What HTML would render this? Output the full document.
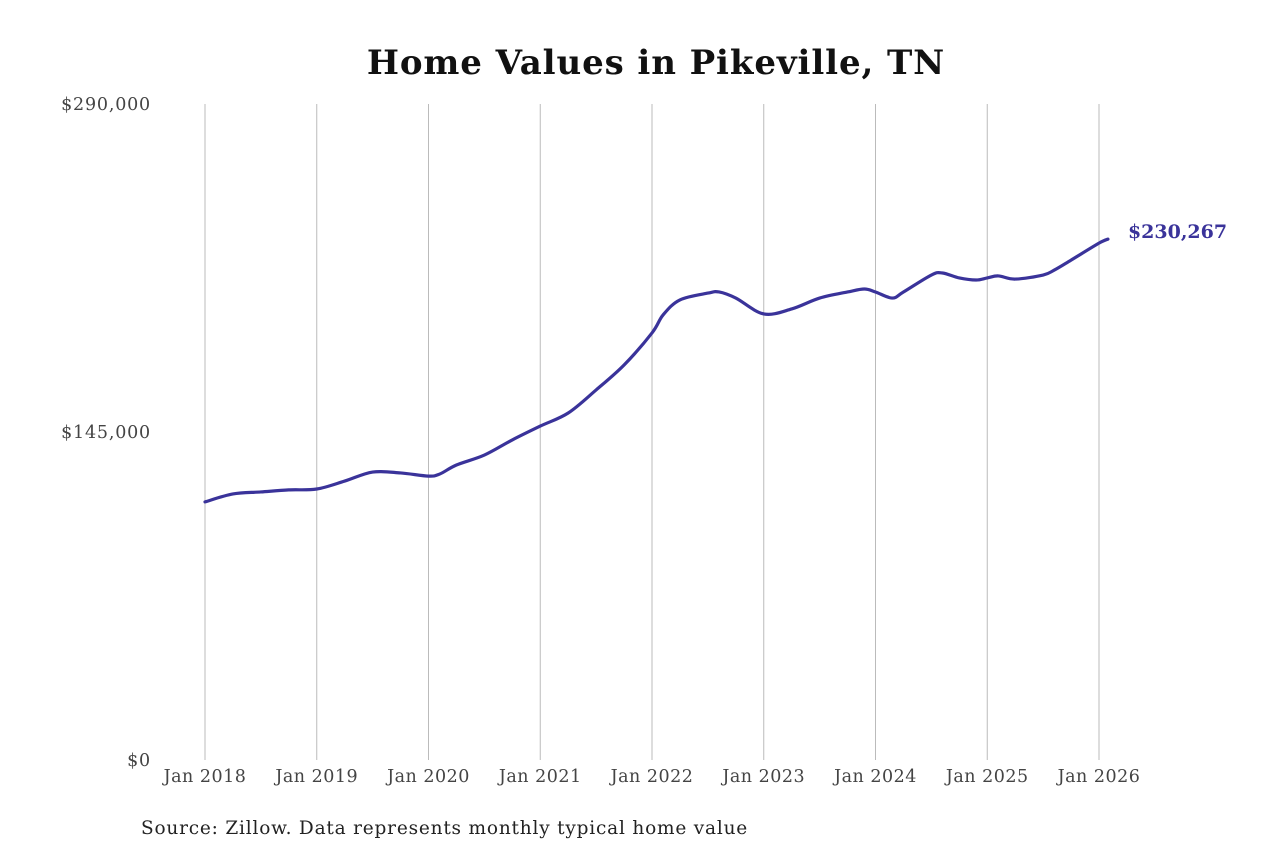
<!DOCTYPE html>
<html><head><meta charset="utf-8"><style>
body{margin:0;background:#fff;}
svg{display:block;font-family:"DejaVu Serif","Liberation Serif",serif;}
</style></head><body>
<svg id="chart" width="1280" height="853" viewBox="0 0 1280 853">
<text x="656" y="74" text-anchor="middle" font-size="34" font-weight="bold" fill="#111" letter-spacing="0.9">Home Values in Pikeville, TN</text>
<g id="grid"></g><g id="yticks"></g><g id="xticks"></g>
<path id="line" fill="none" stroke="#3a339a" stroke-width="3.2" stroke-linejoin="round" stroke-linecap="round"/>
<text id="endlabel" font-size="19" font-weight="bold" fill="#3a339a"></text>
<text x="141" y="834" font-size="18.5" fill="#222" letter-spacing="0.8">Source: Zillow. Data represents monthly typical home value</text>
</svg>
<script>
const dates=[2018.0,2018.25,2018.5,2018.75,2019.0,2019.25,2019.5,2019.75,2020.0,2020.1,2020.25,2020.5,2020.75,2021.0,2021.25,2021.5,2021.75,2022.0,2022.1,2022.25,2022.5,2022.6,2022.75,2023.0,2023.25,2023.5,2023.75,2023.9,2024.0,2024.15,2024.25,2024.5,2024.6,2024.75,2024.9,2025.0,2025.1,2025.25,2025.5,2025.6,2025.75,2026.0,2026.08];
const values=[114100,117600,118500,119400,119800,123300,127300,126900,125500,126400,130400,134800,141500,147600,153400,163600,174600,188800,196800,203400,206400,206900,204200,197200,199400,204200,206900,208200,206900,204200,206900,214400,215300,213100,212200,213100,214000,212600,214400,216600,221000,228500,230267];
const yTickVals=[0,145000,290000];
const yTickLabels=["$0","$145,000","$290,000"];
const xTickYears=[2018,2019,2020,2021,2022,2023,2024,2025,2026];
const xTickLabels=["Jan 2018","Jan 2019","Jan 2020","Jan 2021","Jan 2022","Jan 2023","Jan 2024","Jan 2025","Jan 2026"];
const NS="http://www.w3.org/2000/svg";
const X=d=>205+(d-2018)*111.75;
const Y=v=>760-v/290000*656;
function mk(tag,attrs,parent,txt){const e=document.createElementNS(NS,tag);for(const k in attrs)e.setAttribute(k,attrs[k]);if(txt!==undefined)e.textContent=txt;document.getElementById(parent).appendChild(e);return e;}
xTickYears.forEach((yr,i)=>{
  const g=mk('line',{x1:X(yr),x2:X(yr),y1:104,y2:760,stroke:'#bbb','stroke-width':1},'grid');
  
  
  const t=mk('text',{x:X(yr),y:782,'text-anchor':'middle','font-size':17.5,fill:'#444','letter-spacing':0.5},'xticks',xTickLabels[i]);
  
  
});
yTickVals.forEach((v,i)=>{
  const t=mk('text',{x:151,y:Y(v)+6,'text-anchor':'end','font-size':17.5,fill:'#444','letter-spacing':0.8},'yticks',yTickLabels[i]);
  
  
});
const pts=dates.map((d,i)=>[X(d),Y(values[i])]);
let p='M'+pts[0][0]+','+pts[0][1];
for(let i=0;i<pts.length-1;i++){
  const p0=pts[i-1]||pts[i],p1=pts[i],p2=pts[i+1],p3=pts[i+2]||p2;
  const c1=[p1[0]+(p2[0]-p0[0])/6,p1[1]+(p2[1]-p0[1])/6];
  const c2=[p2[0]-(p3[0]-p1[0])/6,p2[1]-(p3[1]-p1[1])/6];
  p+=' C'+c1+' '+c2+' '+p2;
}
document.getElementById('line').setAttribute('d',p);
const last=pts[pts.length-1];
const el=document.getElementById('endlabel');
el.setAttribute('x',last[0]+20);el.setAttribute('y',last[1]-1);
el.textContent='$'+values[values.length-1].toLocaleString('en-US');
</script>
</body></html>
